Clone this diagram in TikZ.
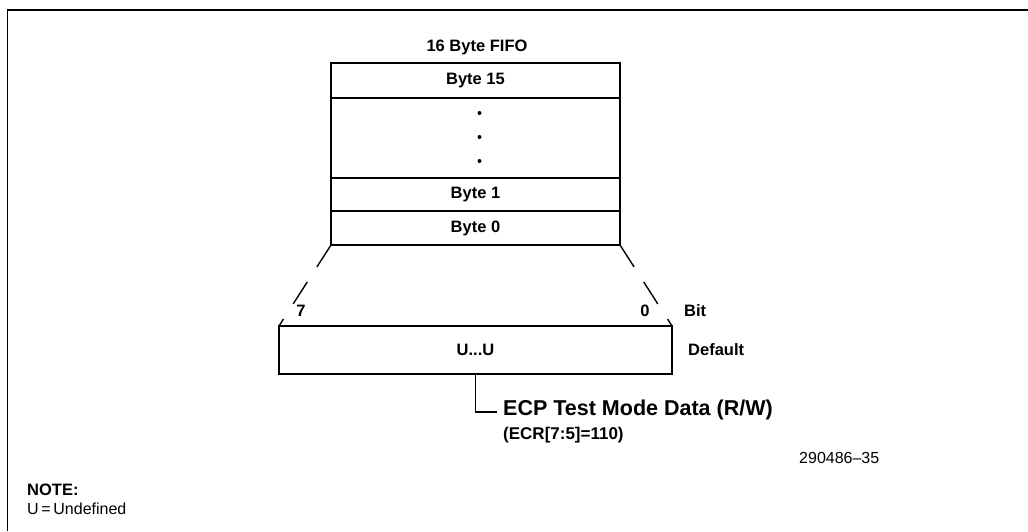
\documentclass[tikz,border=0pt]{standalone}
\usepackage{fontspec}
\setmainfont{Liberation Sans}
\usetikzlibrary{positioning, calc}

\begin{document}
\begin{tikzpicture}[
  x=1pt, y=-1pt,
  every node/.style={font=\bfseries\fontsize{16.5}{18}\selectfont},
  row/.style={rectangle, draw, line width=1.8pt, minimum width=289pt, minimum height=#1, inner sep=0pt, outer sep=0pt},
  regbox/.style={rectangle, draw, line width=1.8pt, minimum width=393pt, minimum height=48pt, inner sep=0pt, outer sep=0pt},
  lbl/.style={inner sep=0pt, text height=0.72em, text depth=0pt},
  fan/.style={line width=1.4pt, dash pattern=on 26pt off 18pt},
  lead/.style={line width=1.8pt},
]
\useasboundingbox (0,0) rectangle (1028,531);
\draw[line width=1.2pt] (1028,10) -- (7.5,10) -- (7.5,531);

% FIFO stack
\node[lbl] (title) at (477,48) {16 Byte FIFO};
\node[row=35pt] (b15) at (475.5,80.5) {Byte 15};
\node[row=80pt, below=0pt of b15] (dots) {};
\node[row=33pt, below=0pt of dots] (b1) {Byte 1};
\node[row=34pt, below=0pt of b1] (b0) {Byte 0};
\foreach \dy in {15,39,63}
  \fill ($(dots.north)+(4,\dy)$) circle (2pt);

% register
\node[regbox] (reg) at (475.5,350) {U...U};
\node[lbl] (msb) at (301,313) {7};
\node[lbl] (lsb) at (645,313) {0};
\node[lbl, anchor=west] (bit) at (684,313) {Bit};
\node[lbl, anchor=west] (dflt) at (688,352) {Default};

\draw[fan] (b0.south west) -- (reg.north west);
\draw[fan] (b0.south east) -- (reg.north east);

% register name
\node[anchor=west, inner sep=6pt, text height=0.72em, text depth=0pt, font=\bfseries\fontsize{21.5}{24}\selectfont] (ecp) at (497,412) {ECP Test Mode Data (R/W)};
\node[lbl, anchor=west, font=\bfseries\fontsize{17}{19}\selectfont] (ecr) at (503,436) {(ECR[7:5]=110)};
\draw[lead] (reg.south) |- (ecp.west);

\node[lbl, anchor=west, font=\fontsize{16}{18}\selectfont] (fig) at (799,460) {290486–35};
\node[lbl, anchor=west] (note) at (27,492) {NOTE:};
\node[lbl, anchor=west, font=\fontsize{16}{18}\selectfont] (undef) at (27,511) {U\thinspace=\thinspace Undefined};
\end{tikzpicture}
\end{document}
